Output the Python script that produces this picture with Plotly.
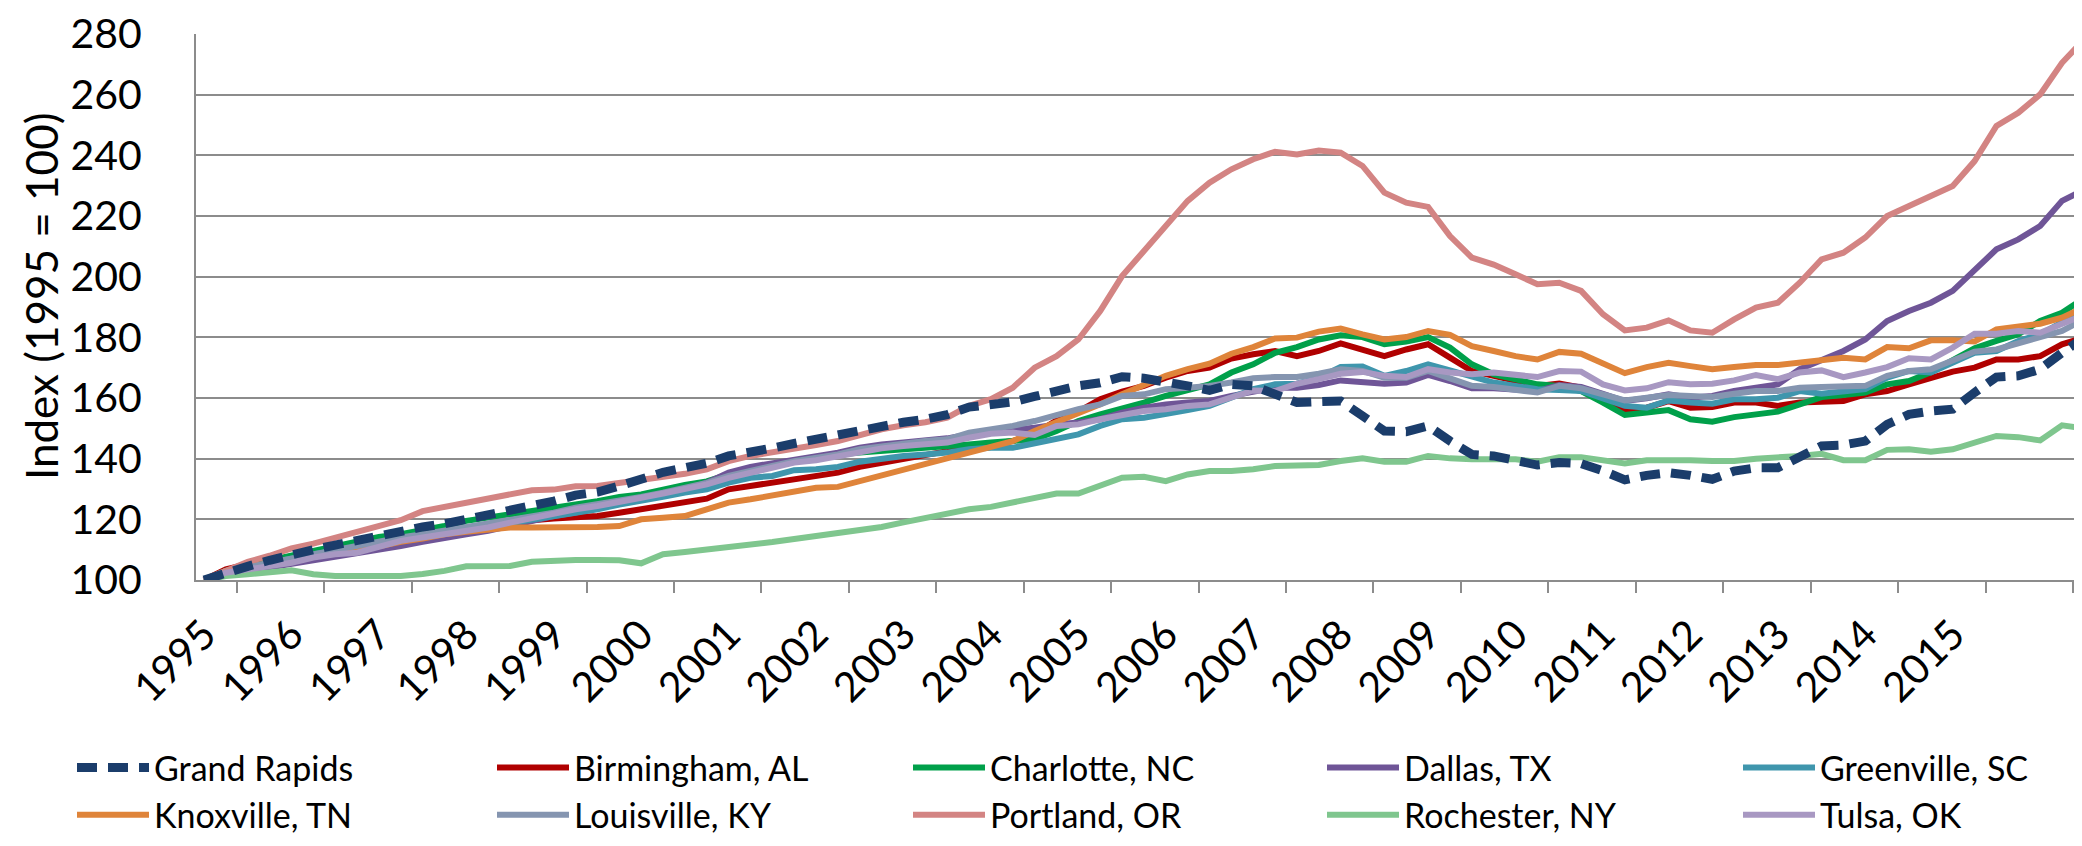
import plotly.graph_objects as go

# quarterly index, 1995Q1 .. 2016Q3 (87 quarters)
QUARTERS = [f"{1995 + k // 4}Q{k % 4 + 1}" for k in range(87)]
YEAR_LABELS = [str(y) for y in range(1995, 2016)]

grand_rapids = [
    100, 102.5, 104.5, 106.5, 108.5, 110, 111.5, 113, 115, 116, 117.5, 118.5, 120, 121, 122.5, 124,
    126, 128, 129, 131, 133.5, 135.5, 137, 138.5,
    140.9, 142, 143.5, 145, 146.4, 148, 149.8, 151, 152, 153, 154.5, 157, 158, 158.7, 160.5, 162.5,
    164, 165, 167, 166.5, 165.5, 164,
    162.5, 164.5, 164, 161.2, 158.5, 158.8, 159, 154.1, 149.1, 148.9, 150.8, 145.8, 141.4, 140.9,
    139.2, 137.9, 138.7, 138.4, 136, 133, 134.5,
    135.4, 134.5, 133.2, 135.9, 137, 137, 140.3, 144.2, 144.5, 145.8, 151.3, 154.6, 155.7, 156.3,
    161.8, 166.9, 167.3, 169.5, 174.9, 179.9,
]
birmingham = [
    100, 103.5, 105.2, 106.8, 107.4, 108.5, 109.6, 110.4, 111.8, 113.4, 114.2, 115.6, 116.7, 117.8,
    118.9, 119.7, 120.3, 120.5, 121.1, 122.2, 123.3, 124.4, 125.5, 126.8,
    129.9, 131, 132.1, 133.5, 134.3, 135.4, 137.3, 138.7, 140.1, 141.4, 142.5, 143.8, 144.7, 145.8,
    148.2, 152.6, 155.5, 159.6, 162.1, 164, 166.7, 168.9,
    170, 173, 174.4, 175.5, 173.8, 175.5, 178, 175.7, 173.8, 176, 177.7, 173.3, 168.9, 167.3, 165.6,
    164, 164.8, 163.4, 159.6, 155.9, 156.8,
    159, 156.8, 157, 158.5, 158.5, 157.4, 158.5, 158.8, 159, 161.2, 162.3, 164.5, 166.5, 168.7, 170,
    172.7, 172.7, 173.8, 177.7, 179.9,
]
charlotte = [
    100, 103, 105, 106.5, 107.9, 109.6, 111.2, 112.9, 114.2, 115.1, 116.2, 117.8, 119.5, 120.5,
    121.6, 122.7, 123.8, 124.9, 126, 127.4, 128.2, 129.9, 131.3, 132.5,
    134.8, 136.5, 138.1, 139.2, 140.1, 141.4, 142, 142.5, 143.1, 143.6, 143.8, 144.7, 145.3, 145.8,
    146.4, 149.1, 152.4, 154.6, 156.3, 158.5, 160.7, 162.5,
    164.5, 168.4, 171.1, 174.9, 176.8, 179.3, 180.7, 180.1, 177.7, 178.6, 180.1, 176.6, 171.1, 167.8,
    166.2, 164.5, 164, 162.3, 158.5, 154.4, 155.2,
    156, 153, 152.2, 153.7, 154.8, 155.5, 157.9, 160.3, 161, 161.8, 164.5, 165.6, 168.5, 172.5,
    176.4, 178.8, 181, 185.4, 188.1, 192.9,
]
dallas = [
    100, 101.9, 103, 104.1, 105.2, 106.3, 107.4, 108.5, 109.6, 111.2, 112.6, 114, 115.1, 116.2,
    117.8, 119.7, 121.1, 122.2, 123.8, 125.5, 127.1, 128.8, 129.9, 132.1,
    135.4, 137.3, 138.4, 139.8, 140.5, 142, 143.6, 144.7, 145.3, 146, 146.7, 148, 148.6, 149.3,
    150.2, 151.3, 151.9, 153, 155.2, 156.8, 157.9, 158.5,
    159, 160.7, 162.3, 163.4, 163.4, 164.3, 165.8, 165.4, 164.7, 165.1, 167.6, 165.6, 163.2, 163.2,
    162.9, 162.3, 164.3, 163.6, 161.4, 159, 159.9,
    161.2, 160.1, 160.7, 162.3, 163.6, 164.5, 169.5, 172.7, 175.5, 179.3, 185.4, 188.7, 191.4, 195.3,
    202.4, 209, 212.3, 216.7, 225, 228.6,
]
greenville = [
    100, 102.4, 104.1, 105.7, 106.8, 108.5, 109.6, 110.7, 111.8, 112.9, 114, 115.1, 116.4, 117.3,
    118.4, 119.7, 121.1, 122.2, 123.3, 124.9, 126, 127.4, 128.8, 129.9,
    132.1, 133.7, 134.3, 136.2, 136.5, 137.3, 139, 140.1, 140.9, 141.4, 142, 143.1, 143.6, 143.6,
    144.9, 146.4, 148, 150.8, 153, 153.5, 154.6, 156,
    157.4, 160.1, 162.9, 164.5, 164.7, 166.7, 170.2, 170.4, 167.3, 168.9, 171.1, 169.1, 166.9, 165.1,
    164, 162.9, 162.6, 162.3, 159.9, 157.4, 156.8,
    159.2, 158.5, 158.1, 159.6, 159.6, 160.1, 162.3, 161.4, 162.1, 162.9, 166.7, 168.9, 168.4, 171.6,
    174.9, 175.5, 178.8, 181, 184.8, 188.9,
]
knoxville = [
    100, 103, 104.3, 105.7, 106.8, 107.9, 109, 109.6, 111.2, 112.6, 113.7, 115.1, 115.9, 116.7,
    117.3, 117.3, 117.3, 117.3, 117.5, 117.8, 120, 120.5, 121.1, 123.3,
    125.5, 126.6, 128, 129.3, 130.4, 130.7, 132.6, 134.6, 136.5, 138.1, 139.8, 142, 143.6, 145.8,
    149.1, 151.9, 154.6, 157.9, 161.2, 164.5, 167.3, 169.5,
    171.3, 174.6, 176.8, 179.6, 179.9, 181.9, 182.9, 181, 179.3, 180.1, 182.1, 180.8, 177.1, 175.5,
    173.8, 172.7, 175.2, 174.6, 171.3, 168.2, 170.2,
    171.6, 170.5, 169.5, 170.2, 170.9, 170.9, 171.6, 172.2, 173.3, 172.7, 176.8, 176.4, 179, 179,
    178.6, 182.6, 183.7, 184.5, 186.5, 189.8,
]
louisville = [
    100, 103, 104.3, 105.7, 107.4, 108.7, 109.8, 111.2, 112.6, 114, 115.1, 116.2, 117.5, 118.6,
    119.7, 121.1, 122.2, 123.8, 124.9, 126, 127.4, 128.8, 130.4, 132,
    134.3, 136.2, 137.6, 139.2, 140.1, 141.4, 143.1, 144.2, 144.9, 145.8, 146.4, 148.6, 149.7, 150.8,
    152.4, 154.6, 156.3, 157.9, 160.7, 161.2, 162.9, 163.4,
    164, 165.1, 166.5, 166.9, 166.9, 168, 169.5, 168.9, 166.7, 166.7, 168.9, 166.5, 164, 163.6,
    162.9, 161.8, 164, 163.2, 161.2, 159.2, 160.1,
    161, 160.7, 160.3, 161.4, 162.3, 162.3, 163.4, 163.6, 164, 164, 167.3, 168.9, 169.5, 172.2,
    175.3, 176, 177.9, 179.9, 182.1, 185.9,
]
portland = [
    100, 103, 106, 108, 110.4, 112, 114, 116, 118, 119.7, 122.7, 124, 125.6, 126.6, 128.2, 129.6,
    129.8, 130.9, 131, 131.9, 133.2, 134, 135, 136.5,
    139.2, 140.9, 142, 143, 144.5, 145.8, 148, 149.7, 151, 152, 153.5, 157.4, 159.6, 163.4, 170,
    173.8, 179.3, 188.7, 200.2, 208.5, 216.2, 225,
    231, 235.4, 238.7, 241.2, 240.3, 241.6, 240.9, 236.5, 227.7, 224.4, 223, 213.4, 206.3, 204,
    200.8, 197.5, 198, 195.3, 187.6, 182.3, 183.2,
    185.6, 182.3, 181.5, 185.9, 189.8, 191.4, 198, 205.7, 207.9, 212.9, 220, 223.3, 226.6, 229.9,
    238.1, 249.7, 254, 260.1, 270.5, 278.2,
]
rochester = [
    100, 101.3, 101.9, 102.5, 103.2, 101.9, 101.3, 101.3, 101.5, 101.3, 102, 103, 104.5, 104.6,
    104.6, 106, 106.5, 106.6, 106.6, 106.5, 105.5, 108.5, 109.2, 110,
    110.5, 111.5, 112.5, 113.5, 114.5, 115.5, 116.5, 117.5, 119, 120.5, 122.2, 123.3, 124.1, 125.5,
    127.1, 128.5, 128.5, 131, 133.7, 134, 132.6, 134.8,
    135.9, 135.9, 136.5, 137.6, 137.9, 137.9, 139.2, 140.1, 139, 139, 140.9, 140.1, 139.8, 139.8,
    139.8, 139, 140.5, 140.5, 139.2, 138.4, 139.5,
    139.6, 139.5, 139.2, 139.2, 140, 140.3, 140.9, 141.6, 139.5, 139.5, 142.9, 143.1, 142.3, 143.1,
    145.3, 147.5, 147.1, 146, 151, 150,
]
tulsa = [
    100, 102.4, 103.5, 104.6, 105.7, 107.4, 108.5, 109, 111.2, 112.9, 114, 115.1, 116.2, 117.3,
    118.9, 120.5, 121.9, 123.3, 124.4, 125.5, 127.1, 128.5, 129.9, 131.5,
    133.7, 135.4, 137, 138.7, 139.5, 140.9, 142.5, 143.4, 144.2, 144.7, 145.3, 146.9, 148.2, 148.6,
    147.8, 150.8, 151.3, 153, 154.6, 155.7, 156.3, 157.4,
    157.9, 160.3, 162.5, 162.3, 164.7, 166.2, 168, 168.6, 167.3, 166.9, 169.5, 168.4, 167.8, 168.4,
    167.8, 166.9, 168.9, 168.7, 164.5, 162.5, 163.2,
    165.2, 164.5, 164.7, 165.8, 167.6, 166.2, 168.4, 169.1, 166.9, 168.4, 170.2, 173.1, 172.7, 176.6,
    181.2, 181.2, 182.1, 181.5, 184.3, 187.4,
]

#name, values, colour
SERIES = [
    ("Grand Rapids", grand_rapids, "#1b3d6b"),
    ("Birmingham, AL", birmingham, "#b00000"),
    ("Charlotte, NC", charlotte, "#00a04a"),
    ("Dallas, TX", dallas, "#6f5597"),
    ("Greenville, SC", greenville, "#3f96ad"),
    ("Knoxville, TN", knoxville, "#df843a"),
    ("Louisville, KY", louisville, "#8595b0"),
    ("Portland, OR", portland, "#d38483"),
    ("Rochester, NY", rochester, "#7fc68e"),
    ("Tulsa, OK", tulsa, "#a898c2"),
]

FONT = "Lato, 'Open Sans', sans-serif"
N_COLS = 5
#legend column left edges, px from the left of the page
LEGEND_COL_X = [64, 484, 900, 1314, 1730]
W, H = 2082, 846
PLOT_L, PLOT_W = 188, 2082 - 188

xpos = list(range(len(QUARTERS)))
legend_ids = ["legend"] + [f"legend{c + 1}" for c in range(1, N_COLS)]

fig = go.Figure()

#solid lines first, dashed Grand Rapids drawn on top
order = list(range(1, len(SERIES))) + [0]
for idx in order:
    name, vals, color = SERIES[idx]
    dashed = idx == 0
    fig.add_trace(go.Scatter(
        x=xpos,
        y=vals,
        mode="lines",
        name=name,
        legend=legend_ids[idx % N_COLS],
        legendrank=idx + 1,
        line=dict(color=color, width=9 if dashed else 6,
                  dash="20px,11px" if dashed else "solid"),
        customdata=QUARTERS,
        hovertemplate="%{customdata}: %{y}<extra>" + name + "</extra>",
    ))

#one small vertical legend per column so the columns sit where they should
legend_style = dict(
    orientation="v",
    xref="container",
    yref="container",
    xanchor="left",
    yanchor="top",
    y=1 - 731 / H,
    font=dict(size=34),
    itemwidth=72,
    tracegroupgap=0,
    bgcolor="rgba(0,0,0,0)",
)
legends = {lid: dict(legend_style, x=LEGEND_COL_X[c] / W) for c, lid in enumerate(legend_ids)}

#y axis title as an annotation (axis title gets misplaced with several legends)
fig.add_annotation(
    text="Index (1995 = 100)",
    xref="paper", yref="paper",
    x=(33 - PLOT_L) / PLOT_W, y=0.52,
    xanchor="center", yanchor="middle",
    textangle=-90,
    showarrow=False,
    font=dict(size=44, family=FONT, color="black"),
)

fig.update_layout(
    width=W,
    height=H,
    paper_bgcolor="white",
    plot_bgcolor="white",
    margin=dict(l=PLOT_L, r=0, t=26, b=274, autoexpand=False),
    font=dict(family=FONT, color="black"),
    xaxis=dict(
        range=[-0.366, 86.28],
        tickmode="array",
        tickvals=[4 * k for k in range(len(YEAR_LABELS))],
        ticktext=YEAR_LABELS,
        tickangle=-45,
        ticks="",
        ticklabelstandoff=12,
        tickfont=dict(size=41),
        showgrid=False,
        showline=True,
        linecolor="#8c8c8c",
        linewidth=2,
        minor=dict(ticks="outside", tick0=1.5, dtick=4, ticklen=11,
                   tickwidth=2, tickcolor="#8c8c8c", showgrid=False),
        zeroline=False,
    ),
    yaxis=dict(
        range=[100, 280],
        dtick=20,
        ticks="",
        tickfont=dict(size=41),
        ticklabelstandoff=44,
        showgrid=True,
        gridcolor="#8c8c8c",
        gridwidth=2,
        showline=True,
        linecolor="#8c8c8c",
        linewidth=2,
        zeroline=False,
    ),
    showlegend=True,
    **legends,
)

fig.write_html("out.html")
